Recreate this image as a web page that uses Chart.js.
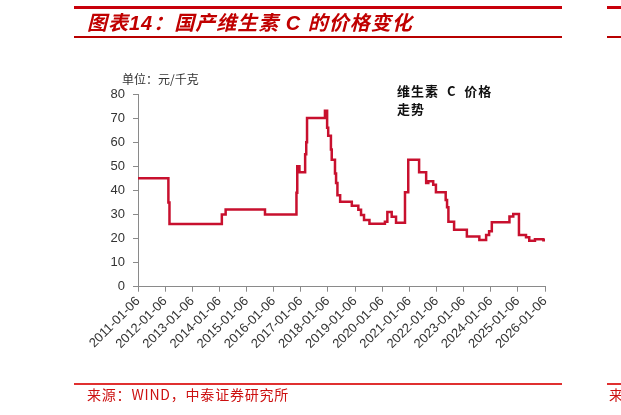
<!DOCTYPE html>
<html>
<head>
<meta charset="utf-8">
<script src="https://cdn.jsdelivr.net/npm/chart.js@4.4.1/dist/chart.umd.min.js"></script>
<style>
  html, body { margin: 0; padding: 0; background: #fff; }
  #wrap { position: relative; width: 621px; height: 415px; overflow: hidden; }
  #c { position: absolute; left: 0; top: 0; }
  .rule { position: absolute; }
  .txt { position: absolute; white-space: nowrap; }
  #title { left: 87px; top: 11px; font: italic bold 20px "Liberation Sans", "Noto Sans CJK SC", sans-serif; color: #c00000; line-height: 24px; letter-spacing: 1px; }
  #unit { left: 122px; top: 70px; font: 12px "Noto Sans CJK SC", sans-serif; color: #333; }
  #note { left: 397px; top: 82px; font: bold 13px "Noto Sans CJK SC", sans-serif; color: #111; line-height: 18px; letter-spacing: 1px; }
  #src { left: 87px; top: 384px; font: 14px "Noto Sans CJK SC", sans-serif; color: #cc1010; line-height: 20px; letter-spacing: 0.8px; }
  #src2 { left: 609px; top: 384px; width: 12px; overflow: hidden; font: 14px "Noto Sans CJK SC", sans-serif; color: #cc1010; line-height: 20px; }
</style>
</head>
<body>
<div id="wrap">
  <canvas id="c" width="621" height="415"></canvas>
  <!-- 頁首 / 頁尾紅線 -->
  <div class="rule" style="left:74px;top:6px;width:488px;height:3px;background:#c8000a"></div>
  <div class="rule" style="left:607px;top:6px;width:14px;height:3px;background:#c8000a"></div>
  <div class="rule" style="left:74px;top:36px;width:488px;height:1.5px;background:#b80000"></div>
  <div class="rule" style="left:607px;top:36px;width:14px;height:1.5px;background:#b80000"></div>
  <div class="rule" style="left:74px;top:383px;width:488px;height:1.5px;background:#e03030"></div>
  <div class="rule" style="left:607px;top:383px;width:14px;height:1.5px;background:#e03030"></div>
  <div class="txt" id="title">图表14：国产维生素 C 的价格变化</div>
  <div class="txt" id="unit">单位：元/千克</div>
  <div class="txt" id="note">维生素&nbsp;&nbsp;C&nbsp;&nbsp;价格<br>走势</div>
  <div class="txt" id="src">来源：WIND，中泰证券研究所</div>
  <div class="txt" id="src2">来</div>
</div>
<script>
/* ─── 資料：價格變動點（年份小數，元/千克），階梯保持至下一點 ─── */
const dates = [
    2011.00, 2012.12, 2012.16, 2014.09, 2014.23, 2015.68, 2016.84, 2016.87,
    2016.95, 2017.16, 2017.20, 2017.23, 2017.89, 2017.97, 2018.01, 2018.11,
    2018.14, 2018.26, 2018.30, 2018.35, 2018.45, 2018.88, 2019.12, 2019.22,
    2019.33, 2019.53, 2020.10, 2020.19, 2020.35, 2020.51, 2020.84, 2020.96,
    2021.36, 2021.62, 2021.70, 2021.88, 2021.98, 2022.34, 2022.39, 2022.44,
    2022.65, 2023.12, 2023.58, 2023.83, 2023.94, 2024.04, 2024.69, 2024.83,
    2025.04, 2025.30, 2025.42, 2025.63, 2025.94, 2026.00,
];
const prices = [
    45, 35, 26, 30, 32, 30, 39, 50,
    47.5, 55, 60, 70, 73, 66, 62.7, 57,
    52.7, 47, 43, 38, 35.3, 33.6, 31.9, 29.8,
    27.7, 26.1, 27, 31, 29, 26.6, 39.2, 52.7,
    47.5, 43, 43.8, 42.3, 39.2, 36, 33, 27,
    23.6, 20.8, 19.4, 21.5, 23, 26.8, 29.1, 30.2,
    21.5, 20.5, 19.1, 19.7, 19.3, 19.3,
];
const tickYears = [2011, 2012, 2013, 2014, 2015, 2016, 2017, 2018, 2019, 2020, 2021, 2022, 2023, 2024, 2025, 2026];
const tickLabels = tickYears.map(y => y + '-01-06');
const yTicks = [0, 10, 20, 30, 40, 50, 60, 70, 80];

Chart.defaults.font.family = '"Liberation Sans", Arial, sans-serif';
Chart.defaults.color = '#333';

const AXIS = '#8a8a8a';

new Chart(document.getElementById('c'), {
    type: 'line',
    data: {
        datasets: [{
            data: dates.map((d, i) => ({ x: d, y: prices[i] })),
            stepped: 'before',   // 舊值保持到下一個變動點
            borderColor: '#c8102e',
            borderWidth: 2.5,
            pointRadius: 0,
            fill: false,
        }],
    },
    options: {
        responsive: false,
        animation: false,
        layout: { padding: { left: 0, top: 94, right: 76, bottom: 0 } },
        plugins: { legend: { display: false }, tooltip: { enabled: false } },
        scales: {
            x: {
                type: 'linear',
                min: tickYears[0],
                max: tickYears[tickYears.length - 1],
                afterBuildTicks: s => { s.ticks = tickYears.map(v => ({ value: v })); },
                afterFit: s => { s.height = 415 - 286.7; },
                ticks: {
                    autoSkip: false,
                    minRotation: 45,
                    maxRotation: 45,
                    padding: 2,
                    font: { size: 13 },
                    color: '#333',
                    callback: (v, i) => tickLabels[i],
                },
                grid: { drawOnChartArea: false, tickLength: 5, color: AXIS },
                border: { color: AXIS, width: 1 },
            },
            y: {
                min: 0,
                max: 80,
                afterBuildTicks: s => { s.ticks = yTicks.map(v => ({ value: v })); },
                afterFit: s => { s.width = 138; },
                ticks: { padding: 8, font: { size: 13 }, color: '#333' },
                grid: { drawOnChartArea: false, tickLength: 5, color: AXIS },
                border: { color: AXIS, width: 1 },
            },
        },
    },
});
</script>
</body>
</html>
